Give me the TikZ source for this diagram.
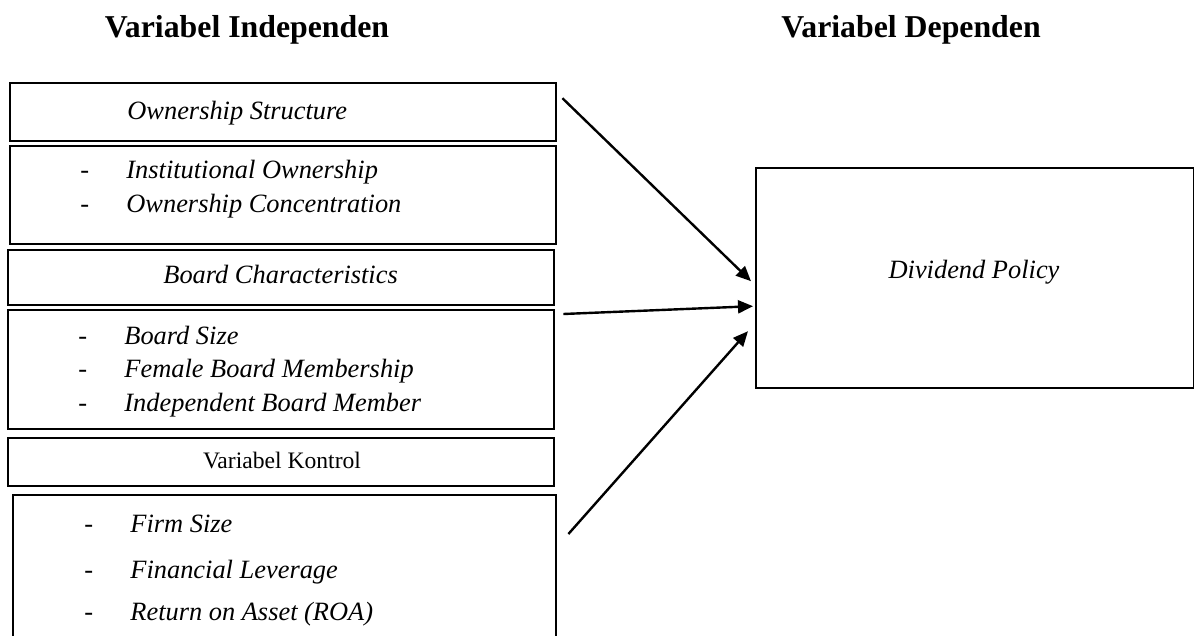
\documentclass[tikz,border=0pt]{standalone}
\usepackage{fontspec}
\setmainfont{Liberation Serif}
\usetikzlibrary{arrows.meta,calc}

\tikzset{
  box/.style={draw, line width=1.2pt, anchor=north west, inner sep=0pt},
  head/.style={font=\fontsize{15.9}{19}\selectfont\bfseries, anchor=base, inner sep=0pt},
  item/.style={font=\fontsize{13.2}{16}\selectfont\itshape, anchor=base west, inner sep=0pt},
  arrow/.style={line width=1.2pt, -{Triangle[length=7.5pt,width=6.5pt]}}
}
\newcommand{\li}[1]{\makebox[23pt][l]{\upshape-}#1}

\begin{document}
\begin{tikzpicture}[x=0.5pt,y=-0.5pt]
		\useasboundingbox (0,0) rectangle (1194,636);
		\clip (0,0) rectangle (1194,636);
		
		% headings
		\node[head] (hind) at (247,38) {Variabel Independen};
		\node[head] (hdep) at (911,38) {Variabel Dependen};
		
		% ownership structure
		\node[box, minimum width=273pt, minimum height=29pt] (own) at (9,82) {};
		\node[item] (ownT) at (127,120) {Ownership Structure};
		\node[box, minimum width=273pt, minimum height=49pt] (ownlist) at (9,145) {};
		\node[item] (o1) at (80,179) {\li{Institutional Ownership}};
		\node[item] (o2) at (80,213) {\li{Ownership Concentration}};
		
		% board characteristics
		\node[box, minimum width=273pt, minimum height=27.5pt] (board) at (7,249) {};
		\node[item] (boardT) at (163,284) {Board Characteristics};
		\node[box, minimum width=273pt, minimum height=59.5pt] (boardlist) at (7,309) {};
		\node[item] (b1) at (78,344) {\li{Board Size}};
		\node[item] (b2) at (78,377) {\li{Female Board Membership}};
		\node[item] (b3) at (78,411) {\li{Independent Board Member}};
		
		% control variables
		\node[box, minimum width=273pt, minimum height=24pt] (ctrl) at (7,437) {};
		\node[anchor=base, inner sep=0pt, font=\fontsize{11.8}{14}\selectfont] (ctrlT) at (282,468) {Variabel Kontrol};
		\node[box, minimum width=271.5pt, minimum height=85pt] (ctrllist) at (12,494) {};
		\node[item] (c1) at (84,532) {\li{Firm Size}};
		\node[item] (c2) at (84,578) {\li{Financial Leverage}};
		\node[item] (c3) at (84,620) {\li{Return on Asset (ROA)}};
		
		% dependent variable
		\node[box, minimum width=219pt, minimum height=110pt] (div) at (755,167) {};
		\node[item, anchor=center] (divT) at (974,272) {Dividend Policy};
		
		% arrows
		\draw[arrow] ($(own.east)+(5,-14)$) -- ($(div.west)+(-4,3)$);
		\draw[arrow] ($(boardlist.north east)+(8,5)$) -- ($(div.west)+(-2,28)$);
		\draw[arrow] ($(ctrllist.north east)+(11,40)$) -- ($(div.west)+(-7,53)$);
		
	\end{tikzpicture}
\end{document}
